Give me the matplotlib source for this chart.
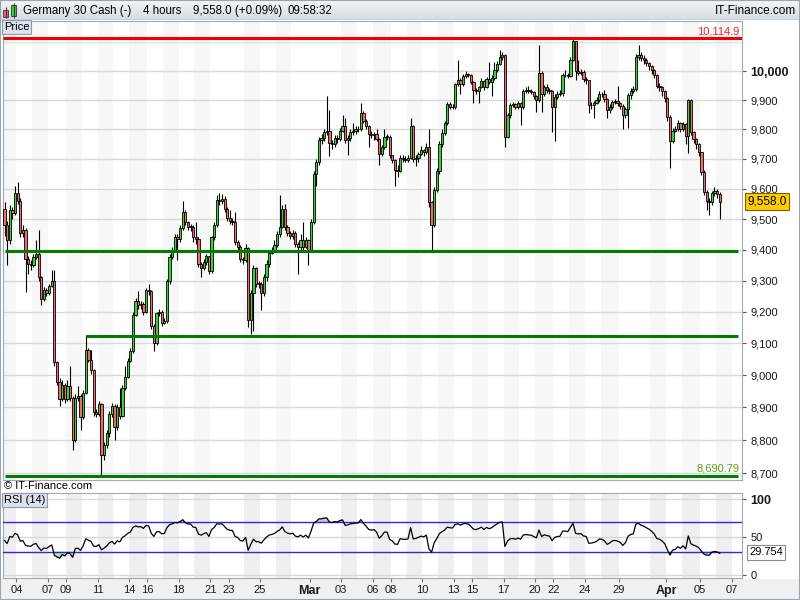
import numpy as np
import matplotlib
matplotlib.use("Agg")
from matplotlib import pyplot as plt
from matplotlib.patches import Rectangle
from matplotlib.colors import LinearSegmentedColormap
from matplotlib.ticker import NullLocator, NullFormatter

plt.rcParams['font.family'] = ['Liberation Sans', 'DejaVu Sans']

# 4 hour candles, open of each candle = previous close
first_open = 9533.0
close = [
    9480, 9430, 9530, 9520, 9585, 9560, 9455, 9465, 9370, 9355,
    9350, 9375, 9385, 9310, 9240, 9270, 9260, 9282, 9300, 9040,
    8980, 8925, 8970, 8925, 8965, 8930, 8800, 8930, 8935, 8870,
    8945, 9080, 9047, 9015, 8885, 8880, 8910, 8755, 8785, 8820,
    8880, 8905, 8840, 8900, 8875, 8960, 8995, 9045, 9075, 9190,
    9235, 9220, 9225, 9200, 9270, 9265, 9155, 9100, 9195, 9200,
    9165, 9170, 9300, 9375, 9400, 9440, 9435, 9470, 9525, 9490,
    9475, 9475, 9440, 9435, 9355, 9340, 9360, 9378, 9330, 9440,
    9480, 9563, 9560, 9565, 9535, 9505, 9495, 9492, 9425, 9410,
    9370, 9365, 9405, 9175, 9260, 9340, 9290, 9290, 9260, 9310,
    9355, 9390, 9400, 9415, 9450, 9475, 9535, 9475, 9455, 9445,
    9455, 9420, 9410, 9432, 9410, 9432, 9400, 9490, 9650, 9690,
    9765, 9770, 9790, 9795, 9755, 9750, 9770, 9766, 9795, 9810,
    9765, 9770, 9790, 9793, 9800, 9802, 9855, 9830, 9810, 9785,
    9780, 9785, 9768, 9718, 9740, 9775, 9775, 9713, 9696, 9663,
    9660, 9705, 9700, 9698, 9703, 9812, 9700, 9705, 9718, 9730,
    9722, 9740, 9555, 9480, 9596, 9660, 9750, 9788, 9820, 9888,
    9878, 9876, 9955, 9969, 9955, 9982, 9990, 9985, 9962, 9934,
    9930, 9945, 9965, 9945, 9972, 9962, 9975, 10003, 10025, 10050,
    10056, 9775, 9848, 9882, 9885, 9875, 9890, 9875, 9930, 9935,
    9932, 9928, 9915, 9900, 9995, 9920, 9945, 9935, 9930, 9875,
    9912, 9922, 9925, 9985, 9988, 9982, 10040, 10103, 10000, 9995,
    9998, 9972, 9968, 9882, 9884, 9890, 9900, 9922, 9920, 9903,
    9865, 9876, 9893, 9896, 9890, 9880, 9850, 9868, 9916, 9932,
    9938, 10050, 10056, 10044, 10038, 10027, 10018, 10003, 9985, 9950,
    9945, 9930, 9908, 9843, 9760, 9795, 9800, 9820, 9800, 9818,
    9778, 9900, 9790, 9768, 9750, 9722, 9658, 9590, 9560, 9558,
    9585, 9592, 9582, 9558,
]
high = [
    9555, 9495, 9545, 9540, 9610, 9622, 9570, 9480, 9470, 9380,
    9365, 9385, 9430, 9465, 9315, 9280, 9275, 9290, 9334, 9334,
    9045, 8990, 8985, 8975, 8985, 9030, 8935, 8940, 8965, 8940,
    8955, 9125, 9085, 9080, 9020, 8895, 8920, 8915, 8795, 8830,
    8890, 8915, 8910, 8910, 8960, 8970, 9030, 9055, 9085, 9200,
    9245, 9265, 9235, 9230, 9275, 9290, 9270, 9160, 9200, 9210,
    9205, 9180, 9305, 9385, 9410, 9450, 9450, 9480, 9560, 9530,
    9495, 9485, 9480, 9490, 9440, 9360, 9370, 9385, 9380, 9445,
    9490, 9580, 9585, 9582, 9575, 9540, 9530, 9505, 9525, 9430,
    9415, 9375, 9420, 9410, 9270, 9350, 9345, 9300, 9295, 9320,
    9365, 9400, 9410, 9430, 9460, 9580, 9545, 9550, 9480, 9460,
    9465, 9460, 9425, 9450, 9490, 9440, 9435, 9500, 9660, 9700,
    9775, 9785, 9800, 9915, 9865, 9765, 9780, 9780, 9805, 9850,
    9840, 9780, 9800, 9820, 9810, 9812, 9890, 9862, 9835, 9815,
    9795, 9790, 9800, 9772, 9748, 9800, 9785, 9780, 9715, 9700,
    9680, 9712, 9715, 9710, 9712, 9840, 9815, 9712, 9725, 9745,
    9735, 9755, 9800, 9560, 9605, 9670, 9760, 9800, 9830, 9895,
    9892, 9885, 9960, 10038, 9975, 9990, 10000, 9995, 9990, 9965,
    9940, 9950, 9975, 9968, 9980, 10030, 9985, 10030, 10035, 10072,
    10065, 10060, 9855, 9890, 9895, 9890, 9898, 9895, 9938, 9945,
    9950, 9938, 9932, 9918, 10090, 10000, 9952, 9955, 9940, 9935,
    9920, 9930, 9935, 9992, 10003, 9993, 10050, 10114.9, 10105, 10038,
    10008, 10002, 9978, 9970, 9892, 9898, 9910, 9930, 9928, 9935,
    9908, 9885, 9900, 9905, 9948, 9895, 9885, 9875, 9925, 9940,
    9948, 10058, 10090, 10065, 10055, 10045, 10032, 10022, 10008, 9990,
    9958, 9950, 9935, 9912, 9848, 9805, 9810, 9832, 9825, 9826,
    9822, 9905, 9902, 9795, 9772, 9755, 9725, 9662, 9595, 9570,
    9592, 9605, 9600, 9590,
]
low = [
    9445, 9350, 9420, 9500, 9515, 9550, 9440, 9440, 9262, 9320,
    9335, 9345, 9370, 9300, 9220, 9235, 9250, 9255, 9278, 9030,
    8970, 8905, 8920, 8915, 8920, 8920, 8770, 8795, 8920, 8830,
    8865, 8940, 9040, 9005, 8875, 8870, 8875, 8693, 8740, 8775,
    8810, 8870, 8800, 8830, 8865, 8870, 8955, 8990, 9040, 9070,
    9185, 9210, 9210, 9190, 9195, 9255, 9145, 9075, 9095, 9185,
    9155, 9160, 9165, 9290, 9370, 9395, 9365, 9425, 9465, 9480,
    9465, 9460, 9425, 9420, 9345, 9310, 9335, 9350, 9320, 9325,
    9430, 9475, 9545, 9550, 9525, 9495, 9485, 9480, 9415, 9400,
    9360, 9355, 9360, 9150, 9130, 9140, 9280, 9275, 9205, 9250,
    9300, 9345, 9385, 9395, 9410, 9440, 9470, 9465, 9445, 9435,
    9435, 9410, 9320, 9400, 9400, 9405, 9350, 9395, 9485, 9610,
    9680, 9750, 9760, 9780, 9710, 9735, 9740, 9755, 9760, 9790,
    9755, 9715, 9760, 9780, 9785, 9790, 9795, 9820, 9800, 9740,
    9770, 9765, 9760, 9680, 9710, 9735, 9765, 9705, 9685, 9610,
    9640, 9655, 9690, 9690, 9690, 9700, 9690, 9675, 9690, 9712,
    9710, 9718, 9540, 9400, 9475, 9590, 9650, 9740, 9780, 9815,
    9870, 9868, 9870, 9950, 9920, 9950, 9975, 9978, 9955, 9890,
    9920, 9890, 9940, 9935, 9940, 9955, 9915, 9970, 9998, 10020,
    10040, 9740, 9770, 9840, 9875, 9868, 9870, 9815, 9870, 9925,
    9925, 9920, 9905, 9860, 9895, 9860, 9915, 9925, 9920, 9790,
    9760, 9905, 9915, 9915, 9978, 9975, 9978, 10035, 9969, 9985,
    9988, 9962, 9955, 9855, 9870, 9840, 9885, 9895, 9912, 9895,
    9840, 9855, 9868, 9885, 9880, 9870, 9800, 9840, 9805, 9905,
    9925, 9932, 10040, 10035, 10025, 10018, 10005, 9990, 9975, 9940,
    9930, 9915, 9895, 9830, 9670, 9755, 9790, 9795, 9790, 9795,
    9750, 9720, 9780, 9755, 9735, 9710, 9645, 9580, 9530, 9512,
    9545, 9575, 9570, 9500,
]

# trading days: name on the axis, number of 4h slots, shaded band, label shown
day_names = ["03", "04", "05", "07", "09", "10", "11", "12", "14", "16",
             "17", "18", "19", "21", "23", "24", "25", "26", "28", "Mar",
             "02", "03", "04", "06", "08", "09", "10", "11", "13", "15",
             "16", "17", "18", "20", "22", "23", "24", "27", "29", "30",
             "31", "Apr", "03", "05", "06", "07"]
day_bars = [5, 6, 6, 7, 6, 6, 6, 6, 7, 6,
            6, 6, 6, 7, 6, 6, 6, 6, 7, 6,
            6, 6, 6, 7, 6, 6, 6, 6, 7, 6,
            6, 6, 6, 7, 6, 6, 6, 7, 6, 6,
            6, 6, 7, 6, 6, 0]
day_shaded = [1, 0, 1, 0, 1, 0, 1, 0, 1, 0,
              1, 0, 1, 0, 0, 1, 0, 1, 0, 0,
              0, 1, 0, 1, 0, 1, 0, 1, 0, 1,
              0, 1, 0, 1, 0, 1, 0, 1, 0, 0,
              1, 0, 1, 0, 1, 0]
day_shown = [0, 1, 0, 1, 1, 0, 1, 0, 1, 1,
             0, 1, 0, 1, 1, 0, 1, 0, 0, 1,
             0, 1, 0, 1, 1, 0, 1, 0, 1, 1,
             0, 1, 0, 1, 1, 0, 1, 0, 1, 0,
             0, 1, 0, 1, 0, 1]

resistance = 10114.9
support_levels = [9395, 9123, 8690.79]
support_from = [0, 31, 0]
price_ticks = [8700, 8800, 8900, 9000, 9100, 9200, 9300, 9400, 9500,
               9600, 9700, 9800, 9900, 10000]
last_price_text = "9,558.0"
rsi_last = 29.754

closes = np.array(close, dtype=float)
opens = np.concatenate([[first_open], closes[:-1]])
highs = np.array(high, dtype=float)
lows = np.array(low, dtype=float)
x = np.arange(len(closes))

# RSI (14), Wilder smoothing
avg_gain = avg_loss = 20.0
rsi = []
for d in closes - opens:
    avg_gain = (avg_gain * 13 + max(d, 0)) / 14
    avg_loss = (avg_loss * 13 + max(-d, 0)) / 14
    rsi.append(100 * avg_gain / (avg_gain + avg_loss))
rsi = np.array(rsi)

day_start = np.concatenate([[0], np.cumsum(day_bars)[:-1]])
x_min, x_max = -0.6, 281.5

fig = plt.figure(figsize=(8, 6), dpi=100)
fig.add_artist(Rectangle((0, 0), 1, 21 / 600, transform=fig.transFigure,
                         fc="#eef0f2", ec="none", zorder=0))

# header bar
hdr = fig.add_axes([0, 1 - 20 / 600, 1, 20 / 600])
hdr.set_xlim(0, 800)
hdr.set_ylim(20, 0)
hdr.axis("off")
grad = LinearSegmentedColormap.from_list("hdr", ["#f3f5f7", "#d5dce3"])
hdr.imshow(np.linspace(0, 1, 20).reshape(-1, 1), cmap=grad,
           extent=(0, 800, 20, 0), aspect="auto")
hdr.axhline(19.5, color="#9aa4ae", lw=1)
hdr.vlines([5.5, 13.5], [7, 3], [18, 18], color="#333333", lw=0.8)
hdr.add_patch(Rectangle((3, 10), 5, 7, fc="#ee6b6b", ec="#333333", lw=0.6))
hdr.add_patch(Rectangle((11, 5), 5, 11, fc="#39d039", ec="#333333", lw=0.6))
hdr.text(23, 11, "Germany 30 Cash (-)", fontsize=8.3, va="center")
hdr.text(143, 11, "4 hours", fontsize=8.3, va="center")
hdr.text(193, 11, "9,558.0 (+0.09%)", fontsize=8.3, va="center")
hdr.text(287, 11, "09:58:32", fontsize=8.3, va="center")
hdr.text(796, 11, "IT-Finance.com", fontsize=8.5, va="center", ha="right")

# price panel
ax = fig.add_axes([3 / 800, 1 - 480 / 600, 739 / 800, 459 / 600])
ax.set_yscale("log")
ax.set_xlim(x_min, x_max)
ax.set_ylim(8679, 10175)

for k in range(len(day_names)):
    left = day_start[k] - 0.5
    right = day_start[k] + day_bars[k] - 0.5 if day_bars[k] else x_max
    if day_shaded[k]:
        ax.axvspan(left, right, color="#f7f7f7", lw=0, zorder=0)

ax.set_yticks(price_ticks)
ax.set_yticklabels([f"{t:,}" for t in price_ticks])
ax.yaxis.set_minor_locator(NullLocator())
ax.yaxis.set_minor_formatter(NullFormatter())
ax.grid(axis="y", color="#d9d9d9", lw=1, zorder=1)
ax.axhline(10100, color="#e2e2e2", lw=1, zorder=1)
ax.yaxis.tick_right()
ax.tick_params(axis="y", length=3, color="#555555", labelsize=8, pad=3,
               labelcolor="#1a1a1a")
ax.tick_params(axis="x", bottom=False, labelbottom=False)
for lab in ax.get_yticklabels():
    if lab.get_text() == "10,000":
        lab.set_fontweight("bold")
        lab.set_fontsize(9)
for s in ax.spines.values():
    s.set_color("#a0aab4")

up = closes >= opens
ax.vlines(x, lows, highs, color="black", lw=0.8, zorder=2)
body_lo = np.minimum(opens, closes)
body_h = np.maximum(np.abs(closes - opens), 1.0)
ax.bar(x[up], body_h[up], bottom=body_lo[up], width=0.85, color="#39d039",
       edgecolor="black", linewidth=0.6, zorder=3)
ax.bar(x[~up], body_h[~up], bottom=body_lo[~up], width=0.85, color="#ee6b6b",
       edgecolor="black", linewidth=0.6, zorder=3)

ax.hlines(resistance, x_min, x_max, color="#f00000", lw=2.2, zorder=4)
ax.annotate(f"{resistance:,}", xy=(1, resistance), xycoords=ax.get_yaxis_transform(),
            xytext=(-2, 1.5), textcoords="offset points", ha="right", va="bottom",
            color="#f02020", fontsize=8)
for lvl, start in zip(support_levels, support_from):
    ax.hlines(lvl, start, x_max - 1.5, color="#007d00", lw=2.2, zorder=4)
ax.annotate("8,690.79", xy=(1, support_levels[-1]), xycoords=ax.get_yaxis_transform(),
            xytext=(-2, 1.5), textcoords="offset points", ha="right", va="bottom",
            color="#5c9e1e", fontsize=8)
ax.text(1.007, closes[-1], last_price_text, transform=ax.get_yaxis_transform(),
        va="center", ha="left", fontsize=8.5,
        bbox=dict(boxstyle="square,pad=0.2", fc="#ffcc00", ec="#7a6000", lw=0.8))

fig.text(4 / 800, 1 - 27 / 600, "Price", fontsize=8, va="center",
         bbox=dict(boxstyle="square,pad=0.15", fc="#dde3ea", ec="#8a9aaa", lw=0.8))
fig.text(4 / 800, 1 - 486 / 600, "© IT-Finance.com", fontsize=8, va="center")

# RSI panel
ar = fig.add_axes([3 / 800, 1 - 578 / 600, 739 / 800, 85 / 600])
ar.set_xlim(x_min, x_max)
ar.set_ylim(-4, 108)
for k in range(len(day_names)):
    left = day_start[k] - 0.5
    right = day_start[k] + day_bars[k] - 0.5 if day_bars[k] else x_max
    if day_shaded[k]:
        ar.axvspan(left, right, color="#efefef", lw=0, zorder=0)
for g in (0, 50, 100):
    ar.axhline(g, color="#d9d9d9", lw=1, zorder=1)
ar.fill_between(x, rsi, 70, where=rsi > 70, interpolate=True, color="#d9bcd9", zorder=2)
ar.fill_between(x, rsi, 30, where=rsi < 30, interpolate=True, color="#b9e2b9", zorder=2)
ar.axhline(70, color="#2a2ad8", lw=1, zorder=3)
ar.axhline(30, color="#2a2ad8", lw=1, zorder=3)
ar.plot(x, rsi, color="black", lw=0.9, zorder=4)

ar.yaxis.tick_right()
ar.set_yticks([0, 50, 100])
ar.set_yticklabels(["0", "50", "100"])
ar.tick_params(axis="y", length=3, color="#555555", labelsize=8, pad=3,
               labelcolor="#1a1a1a")
for lab in ar.get_yticklabels():
    if lab.get_text() == "100":
        lab.set_fontweight("bold")
        lab.set_fontsize(9)

tick_pos = [day_start[k] - 0.5 for k in range(len(day_names)) if day_shown[k]]
tick_lab = [day_names[k] for k in range(len(day_names)) if day_shown[k]]
ar.set_xticks(tick_pos)
ar.set_xticklabels(tick_lab)
ar.tick_params(axis="x", length=3, color="#777777", labelsize=8, pad=2,
               labelcolor="#1a1a1a")
for lab in ar.get_xticklabels():
    if lab.get_text() in ("Mar", "Apr"):
        lab.set_fontweight("bold")
        lab.set_fontsize(9)
for s in ar.spines.values():
    s.set_color("#a0aab4")

ar.text(1.0095, rsi_last, f"{rsi_last:.3f}", transform=ar.get_yaxis_transform(),
        va="center", ha="left", fontsize=8,
        bbox=dict(boxstyle="square,pad=0.2", fc="white", ec="#8a8a8a", lw=0.8))
fig.text(4 / 800, 1 - 500 / 600, "RSI (14)", fontsize=8, va="center",
         bbox=dict(boxstyle="square,pad=0.15", fc="#dde3ea", ec="#8a9aaa", lw=0.8))

fig.add_artist(Rectangle((0, 0), 1, 1, transform=fig.transFigure, fill=False,
                         ec="#9aa4ae", lw=1.5))

fig.savefig("out.png", dpi=100)
